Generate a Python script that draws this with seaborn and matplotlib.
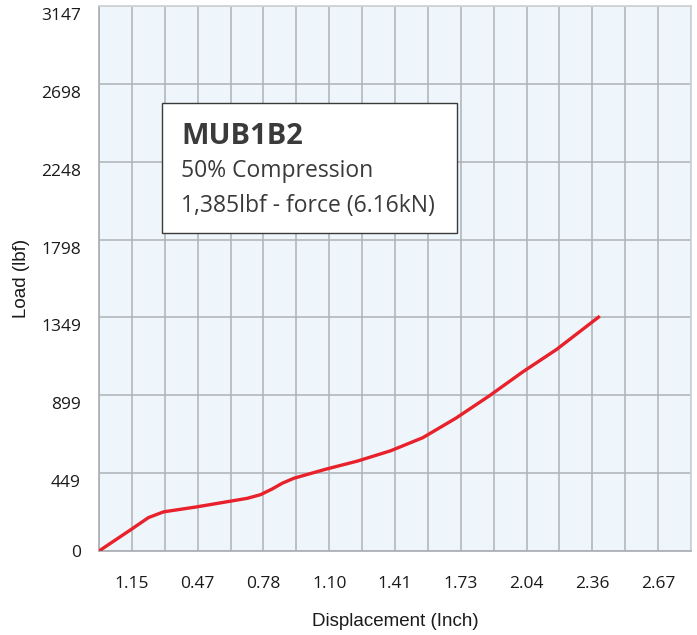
import matplotlib
matplotlib.use("Agg")
import matplotlib.pyplot as plt
import matplotlib.transforms as mtransforms
from matplotlib.patches import Rectangle
import seaborn as sns
import pandas as pd

# displacement (inch) and load (lbf)
displacement = [0.0, 0.157, 0.237, 0.309, 0.469, 0.621, 0.709, 0.773, 0.829, 0.877,
                0.933, 1.085, 1.237, 1.397, 1.550, 1.709, 1.869, 2.030, 2.190, 2.398]
load = [0, 127, 193, 226, 255, 286, 304, 325, 358, 391,
        420, 472, 519, 579, 654, 767, 896, 1035, 1163, 1356]

x_grid = [i * 4 / 25.4 for i in range(19)]          # grid every 4 mm
x_ticks = x_grid[1::2]
x_labels = ["1.15", "0.47", "0.78", "1.10", "1.41", "1.73", "2.04", "2.36", "2.67"]
y_ticks = [0, 449, 899, 1349, 1798, 2248, 2698, 3147]

df = pd.DataFrame({"Displacement": displacement, "Load": load})

sns.set_theme(style="white")
plt.rcParams["font.family"] = ["Open Sans", "DejaVu Sans"]

fig = plt.figure(figsize=(6.97, 6.35), dpi=100)
ax = fig.add_axes([99 / 697, 1 - 551 / 635, 592 / 697, 545 / 635])
ax.set_facecolor("#EEF6FC")

sns.lineplot(data=df, x="Displacement", y="Load", ax=ax, color="#E8212B",
             linewidth=2.4, solid_capstyle="butt", zorder=3)

ax.set_xlim(0, x_grid[-1])
ax.set_ylim(0, 3147)
ax.set_xticks(x_ticks)
ax.set_xticklabels(x_labels)
ax.set_xticks(x_grid, minor=True)
ax.set_yticks(y_ticks)
ax.set_yticklabels([str(v) for v in y_ticks])

ax.grid(True, which="both", axis="x", color="#AEB2B6", linewidth=1.1, zorder=1)
ax.grid(True, which="major", axis="y", color="#AEB2B6", linewidth=1.1, zorder=1)

ax.tick_params(axis="x", which="both", length=4, width=1.1, color="#AEB2B6",
               direction="out", pad=14, labelsize=12.5, labelcolor="#1a1a1a")
ax.tick_params(axis="y", which="both", length=0, pad=13, labelsize=12.5,
               labelcolor="#1a1a1a")

# y labels sit a little below their grid lines in the original
shift = mtransforms.ScaledTranslation(0, -8 / 100, fig.dpi_scale_trans)
for lab in ax.get_yticklabels()[1:]:
    lab.set_transform(lab.get_transform() + shift)

for side in ["left", "bottom"]:
    ax.spines[side].set_color("#AEB2B6")
    ax.spines[side].set_linewidth(1.3)
for side in ["top", "right"]:
    ax.spines[side].set_color("#CFD3D6")
    ax.spines[side].set_linewidth(1.3)

ax.set_xlabel("Displacement (Inch)", family="Liberation Sans", fontsize=13.5,
              color="#1a1a1a", labelpad=15)
ax.set_ylabel("Load (lbf)", family="Liberation Sans", fontsize=13.5,
              color="#1a1a1a", labelpad=8)

# info box
ax.add_patch(Rectangle((0.107, 0.584), 0.498, 0.2386, transform=ax.transAxes,
                       facecolor="white", edgecolor="#3a3a3a", linewidth=1.0,
                       zorder=5))
ax.text(0.1385, 0.7468, "MUB1B2", transform=ax.transAxes, fontsize=21,
        fontweight="bold", color="#3a3a3a", va="baseline", zorder=6)
ax.text(0.1385, 0.686, "50% Compression", transform=ax.transAxes, fontsize=16.5,
        color="#3a3a3a", va="baseline", zorder=6)
ax.text(0.1385, 0.622, "1,385lbf - force (6.16kN)", transform=ax.transAxes,
        fontsize=16.5, color="#3a3a3a", va="baseline", zorder=6)

fig.savefig("out.png", dpi=100)
